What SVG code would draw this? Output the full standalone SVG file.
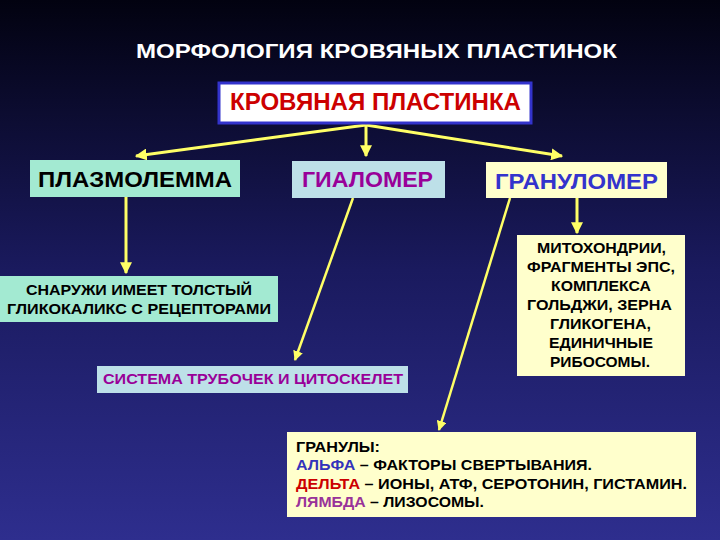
<svg xmlns="http://www.w3.org/2000/svg" width="720" height="540" viewBox="0 0 720 540">
<defs>
<linearGradient id="bg" x1="0" y1="0" x2="0" y2="1">
<stop offset="0" stop-color="#020210"/>
<stop offset="0.5" stop-color="#1a1a5e"/>
<stop offset="1" stop-color="#2e2e8e"/>
</linearGradient>
<marker id="ah" viewBox="0 0 10 10" refX="9" refY="5" markerWidth="4" markerHeight="4" orient="auto" markerUnits="strokeWidth">
<path d="M0,0 L10,5 L0,10 Z" fill="#ffff66"/>
</marker>
<style>
text{font-family:"Liberation Sans",Arial,sans-serif;font-weight:bold}
.c{text-anchor:middle}
.ar{stroke:#ffff66;stroke-width:3;fill:none;marker-end:url(#ah)}
.big{font-size:22px}
.sm{font-size:15px;fill:#000}
.ms{font-size:14px;fill:#000;text-anchor:middle}
.gr{font-size:14px;fill:#000}
</style>
</defs>
<rect width="720" height="540" fill="url(#bg)"/>
<text x="136" y="58" font-size="19.5" fill="#ffffff" textLength="481" lengthAdjust="spacingAndGlyphs">МОРФОЛОГИЯ КРОВЯНЫХ ПЛАСТИНОК</text>
<g id="connectors">
<line class="ar" x1="366" y1="125" x2="136" y2="156"/>
<line class="ar" x1="366" y1="125" x2="366" y2="156"/>
<line class="ar" x1="366" y1="125" x2="562" y2="156"/>
<line class="ar" x1="126" y1="197" x2="126" y2="273"/>
<line class="ar" x1="353" y1="198" x2="295" y2="360" style="stroke-width:2.5"/>
<line class="ar" x1="577" y1="198" x2="577" y2="233"/>
<line class="ar" x1="510" y1="198" x2="439" y2="430" style="stroke-width:2.5"/>
</g>
<g id="krov">
<rect x="219" y="83" width="312" height="40" fill="#ffffff" stroke="#3333cc" stroke-width="3"/>
<text x="230" y="110" font-size="23" fill="#cc0000" textLength="291" lengthAdjust="spacingAndGlyphs">КРОВЯНАЯ ПЛАСТИНКА</text>
</g>
<g id="plazm">
<rect x="30" y="160" width="210" height="37" fill="#a3ead2"/>
<text x="38" y="187" class="big" fill="#000" textLength="194" lengthAdjust="spacingAndGlyphs">ПЛАЗМОЛЕММА</text>
</g>
<g id="gial">
<rect x="292" y="161" width="153" height="37" fill="#bde0e8"/>
<text x="302" y="187" class="big" fill="#990099" textLength="131" lengthAdjust="spacingAndGlyphs">ГИАЛОМЕР</text>
</g>
<g id="granul">
<rect x="486" y="162" width="181" height="36" fill="#ffffcc"/>
<text x="495" y="189" class="big" fill="#3333cc" textLength="163" lengthAdjust="spacingAndGlyphs">ГРАНУЛОМЕР</text>
</g>
<g id="snar">
<rect x="0" y="276" width="278" height="46" fill="#a3ead2"/>
<text x="26" y="295" class="sm" textLength="226" lengthAdjust="spacingAndGlyphs">СНАРУЖИ ИМЕЕТ ТОЛСТЫЙ</text>
<text x="7" y="314" class="sm" textLength="264" lengthAdjust="spacingAndGlyphs">ГЛИКОКАЛИКС С РЕЦЕПТОРАМИ</text>
</g>
<g id="sist">
<rect x="97" y="366" width="311" height="27" fill="#bde0e8"/>
<text x="103" y="384" class="sm" style="fill:#990099" textLength="300" lengthAdjust="spacingAndGlyphs">СИСТЕМА ТРУБОЧЕК И ЦИТОСКЕЛЕТ</text>
</g>
<g id="mito">
<rect x="517" y="235" width="168" height="141" fill="#ffffcc"/>
<text x="601.5" y="253" class="ms" textLength="129" lengthAdjust="spacingAndGlyphs">МИТОХОНДРИИ,</text>
<text x="601" y="272" class="ms" textLength="148" lengthAdjust="spacingAndGlyphs">ФРАГМЕНТЫ ЭПС,</text>
<text x="601" y="291" class="ms" textLength="100" lengthAdjust="spacingAndGlyphs">КОМПЛЕКСА</text>
<text x="599.5" y="310" class="ms" textLength="145" lengthAdjust="spacingAndGlyphs">ГОЛЬДЖИ, ЗЕРНА</text>
<text x="600.5" y="329" class="ms" textLength="101" lengthAdjust="spacingAndGlyphs">ГЛИКОГЕНА,</text>
<text x="601" y="348" class="ms" textLength="104" lengthAdjust="spacingAndGlyphs">ЕДИНИЧНЫЕ</text>
<text x="600" y="367" class="ms" textLength="100" lengthAdjust="spacingAndGlyphs">РИБОСОМЫ.</text>
</g>
<g id="gran">
<rect x="287" y="432" width="409" height="85" fill="#ffffcc"/>
<text x="296" y="451.5" class="gr" textLength="84" lengthAdjust="spacingAndGlyphs">ГРАНУЛЫ:</text>
<text x="296" y="470" class="gr" textLength="296" lengthAdjust="spacingAndGlyphs"><tspan fill="#3333bb">АЛЬФА</tspan> – ФАКТОРЫ СВЕРТЫВАНИЯ.</text>
<text x="296" y="488.5" class="gr" textLength="391" lengthAdjust="spacingAndGlyphs"><tspan fill="#cc0000">ДЕЛЬТА</tspan> – ИОНЫ, АТФ, СЕРОТОНИН, ГИСТАМИН.</text>
<text x="296" y="507" class="gr" textLength="188" lengthAdjust="spacingAndGlyphs"><tspan fill="#993399">ЛЯМБДА</tspan> – ЛИЗОСОМЫ.</text>
</g>
</svg>
